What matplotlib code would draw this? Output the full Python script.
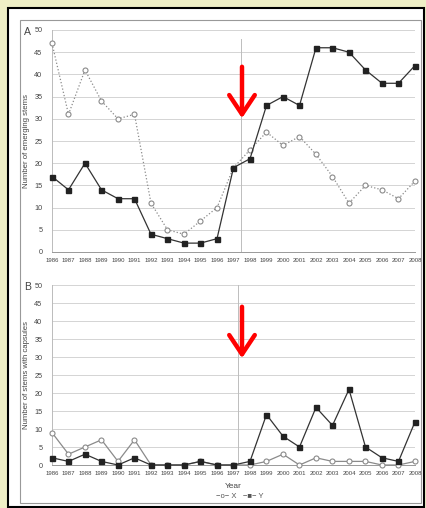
import matplotlib
matplotlib.use("Agg")
import matplotlib.pyplot as plt
from matplotlib.patches import Rectangle, FancyArrowPatch

plt.rcParams['font.family'] = ['Liberation Sans', 'DejaVu Sans']

years = list(range(1986, 2009))

# panel A: number of emerging stems
a_x = [47, 31, 41, 34, 30, 31, 11, 5, 4, 7, 10, 19, 23, 27, 24, 26, 22, 17, 11, 15, 14, 12, 16]
a_y = [17, 14, 20, 14, 12, 12, 4, 3, 2, 2, 3, 19, 21, 33, 35, 33, 46, 46, 45, 41, 38, 38, 42]

# panel B: number of stems with capsules
b_x = [9, 3, 5, 7, 1, 7, 0, 0, 0, 1, 0, 0, 0, 1, 3, 0, 2, 1, 1, 1, 0, 0, 1]
b_y = [2, 1, 3, 1, 0, 2, 0, 0, 0, 1, 0, 0, 1, 14, 8, 5, 16, 11, 21, 5, 2, 1, 12]

W, H = 427, 508
fig = plt.figure(figsize=(W / 100, H / 100), dpi=100)
fig.patch.set_facecolor('#efefc6')


def fx(px):
    return px / W


def fy(py):
    return 1 - py / H


# page frame
fig.patches.append(Rectangle((fx(8), fy(507)), fx(424) - fx(8), fy(8) - fy(507),
                             transform=fig.transFigure, facecolor='white',
                             edgecolor='black', lw=1.5, zorder=-2))
fig.patches.append(Rectangle((fx(20), fy(503)), fx(421) - fx(20), fy(20) - fy(503),
                             transform=fig.transFigure, facecolor='none',
                             edgecolor='#999999', lw=0.8, zorder=-1))

X_COL = '#8a8a8a'
Y_COL = '#333333'


def make_panel(top, bottom, xs, ys, letter, ylabel, x_ls, vline, vtop):
    ax = fig.add_axes([fx(52), fy(bottom), fx(415) - fx(52), fy(top) - fy(bottom)])
    ax.set_zorder(1)
    ax.set_facecolor('none')
    ax.set_xlim(1986, 2008)
    ax.set_ylim(0, 50)
    ax.set_yticks(range(0, 51, 5))
    ax.set_xticks(years)
    ax.set_xticklabels([str(y) for y in years], fontsize=4.3, color='#444444')
    ax.tick_params(axis='y', labelsize=5.2, colors='#444444', length=0, pad=7)
    ax.tick_params(axis='x', length=0, pad=4)
    ax.grid(axis='y', color='#d4d4d4', lw=0.7)
    ax.set_axisbelow(True)
    for s in ['top', 'right']:
        ax.spines[s].set_visible(False)
    ax.spines['left'].set_color('#bbbbbb')
    ax.spines['bottom'].set_color('#999999')
    ax.spines['left'].set_linewidth(0.7)
    ax.spines['bottom'].set_linewidth(0.7)
    ax.axvline(vline, ymax=vtop, color='#bdbdbd', lw=0.7)
    ax.plot(years, xs, color=X_COL, ls=x_ls, lw=0.9, marker='o', ms=3.6,
            mfc='white', mec=X_COL, mew=0.8, clip_on=False, zorder=3)
    ax.plot(years, ys, color=Y_COL, ls='-', lw=0.9, marker='s', ms=3.6,
            mfc='#222222', mec='#222222', clip_on=False, zorder=4)
    ax.set_ylabel(ylabel, fontsize=5.6, color='#444444', labelpad=3)
    fig.text(fx(24), fy(top + 2), letter, fontsize=7.5, color='#444444', va='center')
    return ax


make_panel(30, 252, a_x, a_y, 'A', 'Number of emerging stems', ':', 1997.47, 0.96)
make_panel(285, 465, b_x, b_y, 'B', 'Number of stems with capsules', '-', 1997.28, 1.0)

fig.text(fx(233), fy(486), 'Year', fontsize=6, color='#444444', ha='center', va='center')
fig.text(fx(240), fy(497), '\u2212o\u2212 X   \u2212\u25a0\u2212 Y', fontsize=5.5, color='#555555',
         ha='center', va='center')

# red arrows
for y0, y1 in [(64, 121), (304, 361)]:
    arr = FancyArrowPatch(
        (fx(242), fy(y0)), (fx(242), fy(y1)), transform=fig.transFigure,
        arrowstyle='->,head_length=6,head_width=4', color='#ff0000', lw=3.2,
        mutation_scale=2.3, zorder=5)
    fig.add_artist(arr)

fig.savefig('out.png', dpi=100, facecolor=fig.get_facecolor())
